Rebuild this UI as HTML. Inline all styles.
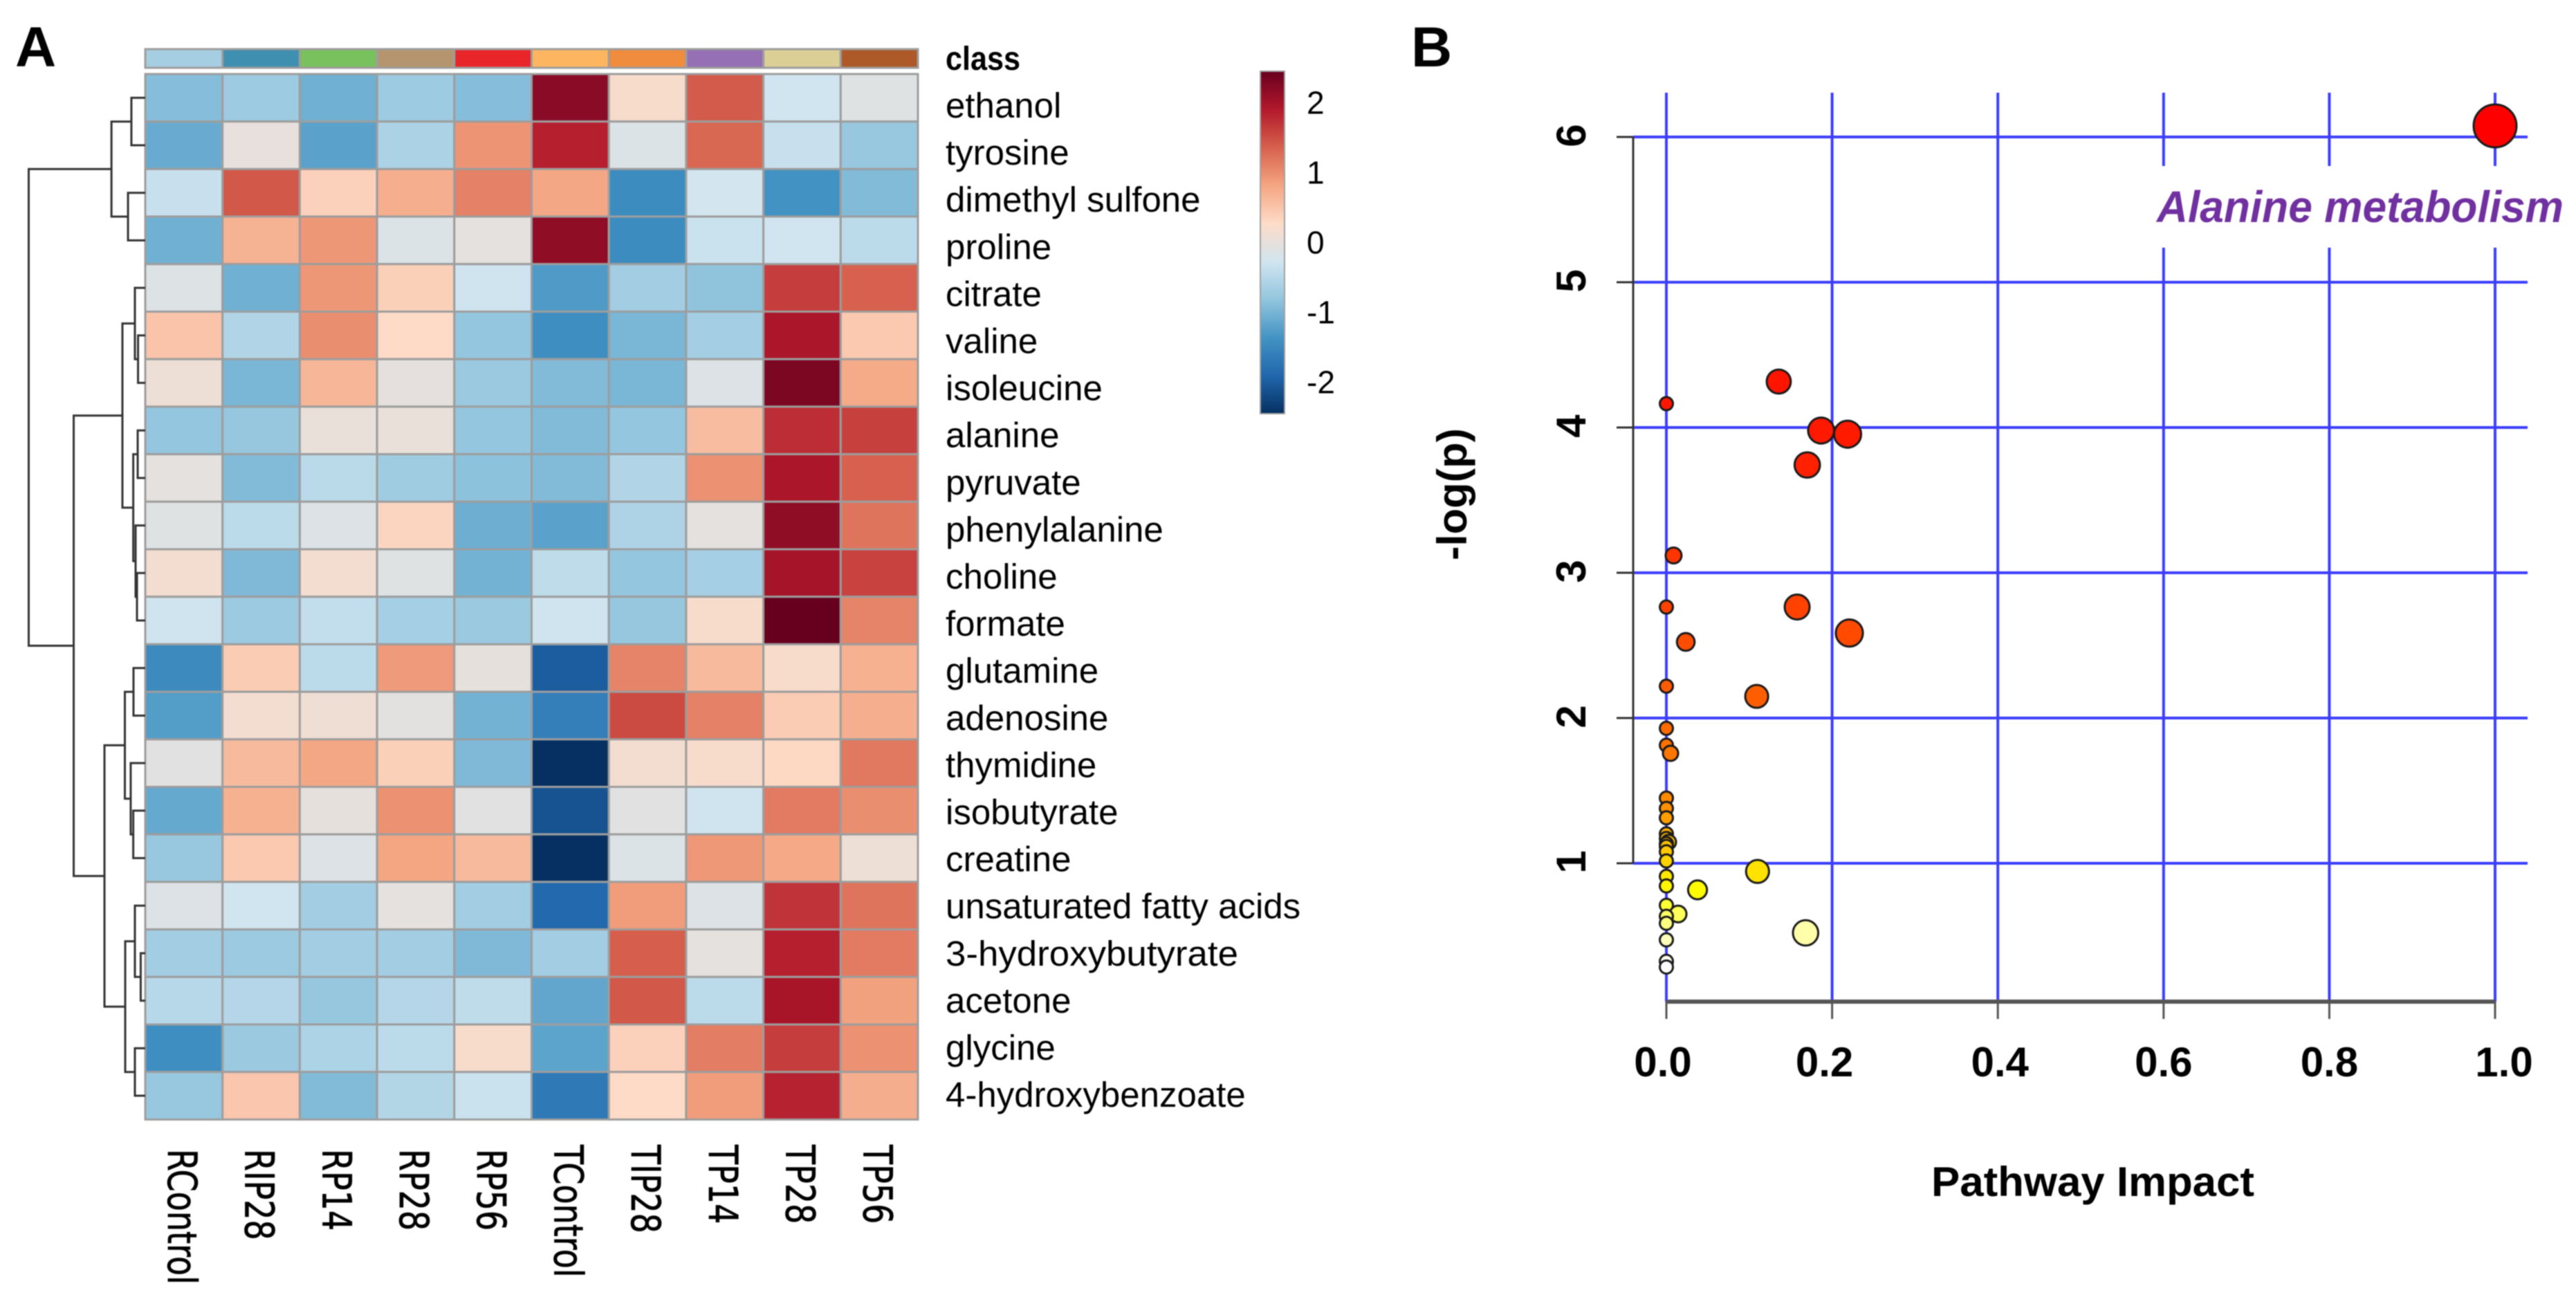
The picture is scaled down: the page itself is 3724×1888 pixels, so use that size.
<!DOCTYPE html>
<html lang="en">
<head>
<meta charset="utf-8">
<title>Metabolite heatmap and pathway impact plot</title>
<style>
html,body{margin:0;padding:0;background:#fff;width:3724px;height:1888px;overflow:hidden}
svg{display:block;font-family:"Liberation Sans",sans-serif;filter:blur(0.8px)}
</style>
</head>
<body>
<svg id="figure" xmlns="http://www.w3.org/2000/svg" width="3724" height="1888" viewBox="0 0 3724 1888">
  <rect width="3724" height="1888" fill="#ffffff"/>
  <text x="22" y="96" font-size="82" font-weight="bold">A</text>
  <text x="2040" y="96" font-size="82" font-weight="bold">B</text>
  <text x="1367" y="101" font-size="48" font-weight="bold" textLength="108" lengthAdjust="spacingAndGlyphs">class</text>
  <text x="2792" y="1729" font-size="60" font-weight="bold" textLength="467" lengthAdjust="spacingAndGlyphs">Pathway Impact</text>
  <text transform="translate(2120,810) rotate(-90)" font-size="60" font-weight="bold" textLength="191" lengthAdjust="spacingAndGlyphs">-log(p)</text>
  <g id="heatmap"></g>
  <g id="dendrogram"></g>
  <g id="colorbar"></g>
  <g id="scatter"></g>
</svg>
<script>
// ---------- Heatmap data ----------
const sampleNames = ["RControl","RIP28","RP14","RP28","RP56","TControl","TIP28","TP14","TP28","TP56"];
const metaboliteNames = ["ethanol","tyrosine","dimethyl sulfone","proline","citrate","valine","isoleucine","alanine","pyruvate","phenylalanine","choline","formate","glutamine","adenosine","thymidine","isobutyrate","creatine","unsaturated fatty acids","3-hydroxybutyrate","acetone","glycine","4-hydroxybenzoate"];
const classColors = ["#a6cee3","#3f8fb0","#78c15c","#b4956e","#e8262a","#fdb65f","#ef8c3e","#9570b5","#dccf95","#ae5a28"];
const zScores = [
[-0.9,-0.72,-1.05,-0.72,-0.9,2.2,0.2,1.4,-0.27,-0.1],
[-1.1,0,-1.2,-0.6,0.95,1.85,-0.15,1.3,-0.35,-0.77],
[-0.35,1.42,0.37,0.72,1.1,0.8,-1.45,-0.25,-1.37,-0.93],
[-1.05,0.68,0.93,-0.15,-0.03,2.15,-1.45,-0.33,-0.27,-0.45],
[-0.12,-1.05,0.93,0.38,-0.29,-1.28,-0.68,-0.83,1.62,1.35],
[0.5,-0.55,1.0,0.27,-0.8,-1.42,-0.98,-0.67,1.95,0.45],
[0.08,-0.98,0.65,-0.02,-0.75,-0.93,-0.98,-0.13,2.3,0.77],
[-0.8,-0.78,0.02,0.02,-0.8,-0.93,-0.8,0.58,1.75,1.6],
[-0.03,-0.93,-0.47,-0.7,-0.85,-0.93,-0.55,0.97,1.95,1.35],
[-0.1,-0.45,-0.13,0.33,-1.07,-1.2,-0.57,-0.03,2.15,1.2],
[0.15,-0.95,0.15,-0.1,-1.02,-0.43,-0.8,-0.65,2.0,1.58],
[-0.29,-0.73,-0.4,-0.65,-0.75,-0.29,-0.78,0.2,2.45,1.08],
[-1.47,0.42,-0.45,0.9,-0.01,-2.0,1.08,0.6,0.2,0.7],
[-1.25,0.15,0.1,-0.05,-1.02,-1.6,1.52,1.1,0.42,0.72],
[-0.07,0.6,0.8,0.38,-0.95,-2.45,0.15,0.2,0.3,1.17],
[-1.12,0.7,-0.01,0.97,-0.07,-2.1,-0.07,-0.29,1.15,1.0],
[-0.77,0.45,-0.13,0.82,0.6,-2.47,-0.15,0.92,0.78,0.08],
[-0.13,-0.27,-0.68,-0.03,-0.68,-1.87,0.88,-0.13,1.7,1.2],
[-0.68,-0.74,-0.68,-0.68,-0.95,-0.68,1.37,-0.03,1.85,1.15],
[-0.5,-0.52,-0.78,-0.52,-0.43,-1.15,1.42,-0.45,1.98,0.85],
[-1.42,-0.75,-0.58,-0.45,0.2,-1.18,0.37,1.13,1.62,0.97],
[-0.77,0.48,-0.93,-0.53,-0.33,-1.68,0.27,0.88,1.83,0.73]
];
const colorRamp = ["#053061","#2166ac","#4393c3","#92c5de","#d1e5f0","#fddbc7","#f4a582","#d6604d","#b2182b","#67001f"];
const legendTicks = [2,1,0,-1,-2];
// Dendrogram: [height (0 = heatmap edge, 1 = root), left child, right child]; numbers are row indices
const rowTree = [1.0,
  [0.29,[0.119,0,1],[0.148,2,3]],
  [0.614,
    [0.196,
      [0.089,4,[0.062,5,6]],
      [0.103,[0.065,7,8],[0.083,9,[0.071,10,11]]]],
    [0.35,
      [0.175,[0.101,12,13],[0.125,14,[0.103,15,16]]],
      [0.172,[0.089,17,[0.039,18,19]],[0.089,20,21]]]]];

// ---------- Scatter data ----------
const xTickValues = [0,0.2,0.4,0.6,0.8,1.0];
const xTickLabels = ["0.0","0.2","0.4","0.6","0.8","1.0"];
const yTickValues = [1,2,3,4,5,6];
const pathwayImpact = [1.0,0.1356,0,0.1867,0.2187,0.17,0.0087,0,0.1578,0.0234,0.2208,0,0.109,0,0,0.005,0,0,0,0,0,0.0028,0,0,0,0,0.11,0,0,0.0376,0,0.0142,0,0,0,0.168,0,0];
const minusLogP   = [6.076,4.316,4.164,3.979,3.954,3.742,3.119,2.764,2.764,2.524,2.585,2.219,2.149,1.929,1.813,1.757,1.449,1.378,1.313,1.203,1.171,1.146,1.135,1.116,1.079,1.016,0.944,0.91,0.844,0.817,0.711,0.651,0.635,0.587,0.473,0.521,0.325,0.286];

// ---------- Helpers ----------
const NS = "http://www.w3.org/2000/svg";
function make(tag, attrs, parent) {
  const el = document.createElementNS(NS, tag);
  for (const k in attrs) el.setAttribute(k, attrs[k]);
  parent.appendChild(el);
  return el;
}
function hexToRgb(h) {
  return [parseInt(h.slice(1,3),16), parseInt(h.slice(3,5),16), parseInt(h.slice(5,7),16)];
}
function mix(a, b, t) {
  const ca = hexToRgb(a), cb = hexToRgb(b);
  return "rgb(" + ca.map((v,i) => Math.round(v + (cb[i]-v)*t)).join(",") + ")";
}
const Z_MAX = 2.45;
function zColor(z) {
  const p = Math.max(0, Math.min(1, (z + Z_MAX) / (2*Z_MAX))) * (colorRamp.length - 1);
  const i = Math.min(colorRamp.length - 2, Math.floor(p));
  return mix(colorRamp[i], colorRamp[i+1], p - i);
}

// ---------- Heatmap ----------
const hm = document.getElementById("heatmap");
const HM_LEFT = 210, HM_TOP = 107, CELL_W = 111.7, CELL_H = 68.7;
const colX = j => HM_LEFT + CELL_W * j;
const rowY = i => HM_TOP + CELL_H * i;
const rowCenter = i => rowY(i) + CELL_H / 2;

classColors.forEach((c, j) => {
  const r = make("rect", {x: colX(j), y: 71, width: CELL_W, height: 27, fill: c, stroke: "#9d9d9d", "stroke-width": 3}, hm);
  
  
});
zScores.forEach((row, i) => {
  row.forEach((z, j) => {
    const r = make("rect", {x: colX(j), y: rowY(i), width: CELL_W, height: CELL_H, fill: zColor(z), stroke: "#9d9d9d", "stroke-width": 3}, hm);
    
    
  });
});
metaboliteNames.forEach((name, i) => {
  const t = make("text", {x: 1367, y: 170 + 68.1 * i, "font-size": 51, fill: "#000"}, hm);
  t.textContent = name;
  if (name === "3-hydroxybutyrate") {
    t.setAttribute("textLength", "423");
    t.setAttribute("lengthAdjust", "spacingAndGlyphs");
  }
  
  
});
sampleNames.forEach((name, j) => {
  const startY = name[0] === "R" ? 1661 : 1655;
  const x = colX(j) + 33;
  const t = make("text", {
    transform: "translate(" + x + "," + startY + ") rotate(90) scale(1,1.25)",
    "font-size": 46, fill: "#000", stroke: "#000", "stroke-width": 0.6,
    style: 'font-family:"DejaVu Sans",sans-serif'
  }, hm);
  t.textContent = name;
  
  
});

// ---------- Dendrogram ----------
const dendro = document.getElementById("dendrogram");
const treeX = h => HM_LEFT - h * 168.5;
function drawTree(node) {
  if (typeof node === "number") return {x: HM_LEFT, y: rowCenter(node)};
  const a = drawTree(node[1]), b = drawTree(node[2]);
  const x = treeX(node[0]);
  const p = make("path", {
    d: "M" + a.x + " " + a.y + "H" + x + "V" + b.y + "H" + b.x,
    fill: "none", stroke: "#333", "stroke-width": 3
  }, dendro);
  
  
  return {x: x, y: (a.y + b.y) / 2};
}
drawTree(rowTree);

// ---------- Color legend ----------
const cb = document.getElementById("colorbar");
const CB_TOP = 103, CB_BOTTOM = 598;
const defs = make("defs", {}, cb);
const grad = make("linearGradient", {id: "rampGradient", x1: 0, y1: 1, x2: 0, y2: 0}, defs);
colorRamp.forEach((c, i) => {
  make("stop", {offset: i / (colorRamp.length - 1), "stop-color": c}, grad);
});
const bar = make("rect", {x: 1822, y: CB_TOP, width: 35, height: CB_BOTTOM - CB_TOP, fill: "url(#rampGradient)", stroke: "#a0a0a0", "stroke-width": 2}, cb);


const legendY = v => (CB_TOP + CB_BOTTOM) / 2 - 101 * v;
legendTicks.forEach(v => {
  const t = make("text", {x: 1889, y: legendY(v) + 16, "font-size": 46, fill: "#000"}, cb);
  t.textContent = String(v);
  
  
});

// ---------- Scatter ----------
const sc = document.getElementById("scatter");
const xScale = v => 2409 + 1198 * v;
const yScale = v => 198 + (6 - v) * 210;
const GRID_BLUE = "#3c3cff";
const heatStops = [[0.3,"#ffffff"],[0.52,"#ffffaa"],[0.8,"#ffff00"],[1.0,"#ffd700"],[1.4,"#ff8c00"],[2.1,"#ff6000"],[2.8,"#ff4000"],[4,"#ff1800"],[6,"#ff0000"]];
function heatColor(v) {
  if (v <= heatStops[0][0]) return heatStops[0][1];
  for (let i = 1; i < heatStops.length; i++) {
    if (v <= heatStops[i][0]) {
      const a = heatStops[i-1], b = heatStops[i];
      return mix(a[1], b[1], (v - a[0]) / (b[0] - a[0]));
    }
  }
  return heatStops[heatStops.length-1][1];
}
const radius = impact => 9.5 + 21.5 * Math.sqrt(impact);

yTickValues.forEach(v => {
  const y = yScale(v);
  const g = make("line", {x1: 2361, x2: 3654, y1: y, y2: y, stroke: GRID_BLUE, "stroke-width": 4}, sc);
  
  
});
xTickValues.forEach(v => {
  const x = xScale(v);
  const g = make("line", {x1: x, x2: x, y1: 134, y2: 1448, stroke: GRID_BLUE, "stroke-width": 4}, sc);
  
  
});
const mask = make("rect", {x: 3105, y: 240, width: 619, height: 118, fill: "#fff"}, sc);


const ann = make("text", {x: 3118, y: 321, "font-size": 64, "font-weight": "bold", "font-style": "italic", fill: "#7030a0", textLength: 588, lengthAdjust: "spacingAndGlyphs"}, sc);
ann.textContent = "Alanine metabolism";



const yAxis = make("line", {x1: 2361, x2: 2361, y1: yScale(6), y2: yScale(1), stroke: "#333", "stroke-width": 3}, sc);


const xAxis = make("line", {x1: xScale(0), x2: xScale(1), y1: 1448, y2: 1448, stroke: "#555", "stroke-width": 6}, sc);



yTickValues.forEach(v => {
  const y = yScale(v);
  const tick = make("line", {x1: 2337, x2: 2361, y1: y, y2: y, stroke: "#333", "stroke-width": 3}, sc);
  
  
  const t = make("text", {transform: "translate(2292," + (y - 2) + ") rotate(-90)", "font-size": 60, "font-weight": "bold", "text-anchor": "middle", fill: "#000"}, sc);
  t.textContent = String(v);
  
  
});
const xLabelShift = {"0.0": -5, "0.2": -11, "0.4": 3, "1.0": 13};
xTickValues.forEach((v, i) => {
  const x = xScale(v);
  const tick = make("line", {x1: x, x2: x, y1: 1448, y2: 1473, stroke: "#555", "stroke-width": 3}, sc);
  
  
  const t = make("text", {x: x + (xLabelShift[xTickLabels[i]] || 0), y: 1556, "font-size": 60, "font-weight": "bold", "text-anchor": "middle", fill: "#000"}, sc);
  t.textContent = xTickLabels[i];
  
  
});
pathwayImpact.forEach((impact, i) => {
  const c = make("circle", {
    cx: xScale(impact), cy: yScale(minusLogP[i]), r: radius(impact),
    fill: heatColor(minusLogP[i]), stroke: "#1a1a1a", "stroke-width": 3
  }, sc);
  
  
});
</script>
</body>
</html>
